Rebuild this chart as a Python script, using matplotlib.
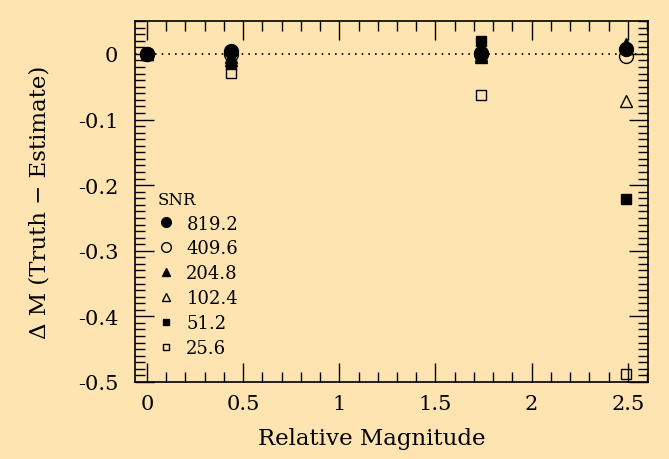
import matplotlib
matplotlib.use("Agg")
import matplotlib.pyplot as plt
from matplotlib.ticker import MultipleLocator

plt.rcParams['font.family'] = ['DejaVu Serif']

x_pos = [0.0, 0.435, 1.735, 2.493]
snr_labels = ["819.2", "409.6", "204.8", "102.4", "51.2", "25.6"]
y_819 = [0.0, 0.005, 0.0, 0.008]
y_409 = [0.0, 0.0, 0.002, -0.003]
y_204 = [0.0, -0.005, -0.005, 0.015]
y_102 = [0.0, -0.01, -0.002, -0.072]
y_51 = [0.0, -0.015, 0.02, -0.221]
y_25 = [0.0, -0.029, -0.062, -0.488]
x_ticks = [0, 0.5, 1, 1.5, 2, 2.5]
x_ticklabels = ['0', '0.5', '1', '1.5', '2', '2.5']
y_ticks = [0, -0.1, -0.2, -0.3, -0.4, -0.5]
y_ticklabels = ['0', '-0.1', '-0.2', '-0.3', '-0.4', '-0.5']

bg = '#FEE4B1'
fig = plt.figure(figsize=(6.69, 4.60), dpi=100, facecolor=bg)
ax = fig.add_axes([0.2018, 0.1674, 0.7668, 0.7846])
ax.set_facecolor(bg)

ax.axhline(0, color='black', linestyle=(0, (1, 3)), linewidth=1.2, zorder=1)

styles = [
    (y_819, 'o', 'black', 10),
    (y_409, 'o', 'none', 10),
    (y_204, '^', 'black', 8),
    (y_102, '^', 'none', 8),
    (y_51, 's', 'black', 7),
    (y_25, 's', 'none', 7),
]
for (ys, m, fc, ms), lab in zip(styles, snr_labels):
    ax.plot(x_pos, ys, linestyle='none', marker=m, markersize=ms,
            markerfacecolor=fc, markeredgecolor='black', markeredgewidth=1.0,
            label=lab, zorder=3)

ax.set_xlim(-0.062, 2.605)
ax.set_ylim(-0.5, 0.05)
ax.xaxis.set_minor_locator(MultipleLocator(0.1))
ax.yaxis.set_minor_locator(MultipleLocator(0.01))
ax.set_xticks(x_ticks)
ax.set_xticklabels(x_ticklabels)
ax.set_yticks(y_ticks)
ax.set_yticklabels(y_ticklabels)
ax.tick_params(which='both', direction='in', top=True, right=True, labelsize=15, width=1.0)
ax.tick_params(axis='x', pad=9)
ax.tick_params(axis='y', pad=12)
ax.tick_params(which='major', length=14)
ax.tick_params(which='minor', length=7)
for s in ax.spines.values():
    s.set_linewidth(1.2)

ax.set_xlabel('Relative Magnitude', fontsize=16.5, labelpad=12)
ax.xaxis.set_label_coords(0.462, -0.125)
ax.set_ylabel('\u0394 M (Truth \u2212 Estimate)', fontsize=16.5)
ax.yaxis.set_label_coords(-0.165, 0.5)

leg = ax.legend(loc='upper left', bbox_to_anchor=(0.012, 0.575), frameon=False,
                title='SNR', fontsize=13, title_fontsize=12, markerscale=0.7,
                handlelength=1.0, handletextpad=0.6, labelspacing=0.38)
leg._legend_box.align = 'left'

fig.savefig('out.png', dpi=100, facecolor=bg)
